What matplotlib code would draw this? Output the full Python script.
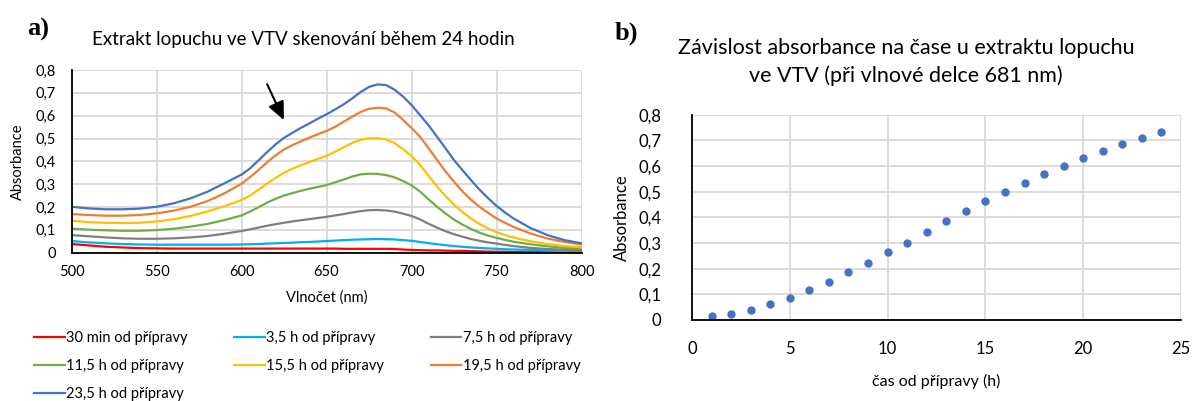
import matplotlib
matplotlib.use("Agg")
import matplotlib.pyplot as plt
from matplotlib.lines import Line2D

plt.rcParams["font.family"] = ["Lato", "DejaVu Sans"]

# ---- panel a): spectra recorded over 24 hours ----
wavelength = [500, 510, 520, 530, 540, 550, 560, 570, 580, 590,
              600, 605, 610, 615, 620, 625, 630, 635, 640, 645, 650, 655, 660, 665, 670,
              675, 680, 685, 690, 695, 700, 705, 710, 715, 720, 725, 730, 735, 740, 745,
              750, 755, 760,
              770, 780, 790, 800]

abs_30min = [0.038, 0.032, 0.026, 0.023, 0.020, 0.019, 0.018, 0.018, 0.018, 0.018,
             0.018, 0.018, 0.018, 0.018, 0.018, 0.018, 0.018, 0.018, 0.018, 0.018, 0.018,
             0.018, 0.017, 0.017, 0.017, 0.017, 0.017, 0.017, 0.016, 0.014, 0.012, 0.011,
             0.010, 0.010, 0.009, 0.008, 0.008, 0.007, 0.006, 0.005, 0.004, 0.004, 0.003,
             0.003, 0.002, 0.001, 0.001]
abs_3_5h = [0.051, 0.045, 0.041, 0.038, 0.036, 0.035, 0.035, 0.035, 0.035, 0.035,
            0.036, 0.037, 0.038, 0.040, 0.041, 0.043, 0.044, 0.046, 0.047, 0.049, 0.051,
            0.053, 0.055, 0.057, 0.058, 0.059, 0.060, 0.059, 0.058, 0.055, 0.052, 0.047,
            0.042, 0.037, 0.033, 0.029, 0.026, 0.023, 0.021, 0.019, 0.017, 0.015, 0.014,
            0.012, 0.010, 0.009, 0.008]
abs_7_5h = [0.077, 0.072, 0.067, 0.063, 0.061, 0.061, 0.063, 0.067, 0.073, 0.083,
            0.095, 0.102, 0.110, 0.118, 0.125, 0.131, 0.137, 0.142, 0.147, 0.152, 0.157,
            0.163, 0.169, 0.176, 0.182, 0.186, 0.187, 0.185, 0.180, 0.171, 0.161, 0.146,
            0.127, 0.110, 0.094, 0.081, 0.070, 0.060, 0.052, 0.045, 0.040, 0.034, 0.029,
            0.021, 0.016, 0.013, 0.011]
abs_11_5h = [0.105, 0.101, 0.098, 0.096, 0.096, 0.099, 0.105, 0.114, 0.126, 0.143,
             0.163, 0.180, 0.199, 0.219, 0.236, 0.250, 0.261, 0.271, 0.280, 0.288, 0.296,
             0.308, 0.320, 0.333, 0.343, 0.346, 0.345, 0.340, 0.330, 0.314, 0.295, 0.268,
             0.234, 0.201, 0.172, 0.145, 0.123, 0.104, 0.088, 0.075, 0.065, 0.056, 0.048,
             0.037, 0.028, 0.021, 0.018]
abs_15_5h = [0.140, 0.134, 0.131, 0.130, 0.131, 0.137, 0.146, 0.161, 0.180, 0.204,
             0.230, 0.250, 0.276, 0.302, 0.327, 0.350, 0.368, 0.383, 0.397, 0.411, 0.424,
             0.442, 0.461, 0.480, 0.494, 0.501, 0.501, 0.496, 0.480, 0.454, 0.423, 0.385,
             0.337, 0.290, 0.248, 0.210, 0.178, 0.149, 0.126, 0.106, 0.090, 0.077, 0.066,
             0.050, 0.038, 0.029, 0.024]
abs_19_5h = [0.169, 0.165, 0.162, 0.162, 0.165, 0.172, 0.184, 0.201, 0.226, 0.260,
             0.302, 0.331, 0.362, 0.396, 0.426, 0.452, 0.471, 0.488, 0.504, 0.519, 0.533,
             0.551, 0.573, 0.595, 0.616, 0.630, 0.635, 0.632, 0.614, 0.582, 0.546, 0.508,
             0.458, 0.406, 0.356, 0.311, 0.268, 0.232, 0.201, 0.175, 0.150, 0.131, 0.113,
             0.084, 0.062, 0.047, 0.036]
abs_23_5h = [0.201, 0.194, 0.190, 0.190, 0.193, 0.201, 0.216, 0.238, 0.267, 0.304,
             0.342, 0.369, 0.404, 0.440, 0.474, 0.503, 0.525, 0.547, 0.566, 0.587, 0.606,
             0.627, 0.649, 0.675, 0.703, 0.726, 0.737, 0.734, 0.714, 0.684, 0.647, 0.603,
             0.558, 0.508, 0.457, 0.406, 0.361, 0.318, 0.276, 0.239, 0.205, 0.176, 0.150,
             0.108, 0.077, 0.055, 0.041]

series_labels = ["30 min od přípravy", "3,5 h od přípravy", "7,5 h od přípravy",
                 "11,5 h od přípravy", "15,5 h od přípravy", "19,5 h od přípravy",
                 "23,5 h od přípravy"]
series_values = [abs_30min, abs_3_5h, abs_7_5h, abs_11_5h, abs_15_5h, abs_19_5h, abs_23_5h]
series_colors = ["#FF0000", "#00B0F0", "#7F7F7F", "#70AD47", "#FFC000", "#ED7D31", "#4472C4"]

wl_ticks = [500, 550, 600, 650, 700, 750, 800]
abs_ticks = [0, 0.1, 0.2, 0.3, 0.4, 0.5, 0.6, 0.7, 0.8]
abs_tick_labels = ["0", "0,1", "0,2", "0,3", "0,4", "0,5", "0,6", "0,7", "0,8"]

# ---- panel b): absorbance at 681 nm versus time ----
time_h = [1, 2, 3, 4, 5, 6, 7, 8, 9, 10, 11, 12, 13, 14, 15, 16, 17, 18, 19, 20, 21, 22, 23, 24]
abs_681 = [0.017, 0.025, 0.038, 0.062, 0.086, 0.117, 0.148, 0.186, 0.223, 0.264, 0.301, 0.343,
           0.384, 0.423, 0.464, 0.497, 0.535, 0.568, 0.601, 0.632, 0.660, 0.684, 0.708, 0.732]
time_ticks = [0, 5, 10, 15, 20, 25]

W, H = 1192, 401
fig = plt.figure(figsize=(W / 100, H / 100), dpi=100)

def px_axes(x0, y0, x1, y1):
    return fig.add_axes([x0 / W, 1 - y1 / H, (x1 - x0) / W, (y1 - y0) / H])

grid_color = "#D9D9D9"

def style(ax):
    for s in ("top", "right"):
        ax.spines[s].set_visible(False)
    for s in ("left", "bottom"):
        ax.spines[s].set_color("black")
        ax.spines[s].set_linewidth(1.3)
    ax.grid(True, color=grid_color, linewidth=1.3)
    ax.set_axisbelow(True)
    ax.tick_params(length=0, colors="black")

# panel a
ax1 = px_axes(71.5, 70, 581.5, 252.7)
style(ax1)
for vals, lab, col in zip(series_values, series_labels, series_colors):
    ax1.plot(wavelength, vals, color=col, linewidth=1.6, label=lab,
             solid_joinstyle="round")
ax1.set_xlim(500, 800)
ax1.set_ylim(0, 0.8)
ax1.set_xticks(wl_ticks)
ax1.set_yticks(abs_ticks)
ax1.set_yticklabels(abs_tick_labels)
ax1.tick_params(axis="y", pad=11, labelsize=10.5)
ax1.tick_params(axis="x", pad=9, labelsize=10.5)
ax1.set_xlabel("Vlnočet (nm)", fontsize=10.5, labelpad=8)
ax1.set_ylabel("Absorbance", fontsize=10.5, labelpad=8)
ax1.annotate("", xy=(625.6, 0.570), xytext=(614.4, 0.749),
             arrowprops=dict(arrowstyle="-|>,head_length=1.1,head_width=0.5",
                             color="black", linewidth=1.5))

fig.text(303 / W, 1 - 40 / H, "Extrakt lopuchu ve VTV skenování během 24 hodin",
         ha="center", va="center", fontsize=13.5)
fig.text(27 / W, 1 - 29 / H, "a)", ha="left", va="center", fontsize=19,
         fontweight="bold", family="Liberation Serif")

# legend below panel a, filled row by row
order = [0, 3, 6, 1, 4, 2, 5]
handles = [Line2D([], [], color=series_colors[i], linewidth=1.6) for i in order]
labels = [series_labels[i] for i in order]
fig.legend(handles, labels, loc="upper left", bbox_to_anchor=(34 / W, 1 - 331 / H),
           ncol=3, frameon=False, fontsize=10.5, handlelength=2.1, handletextpad=0.1,
           columnspacing=3.2, labelspacing=0.95, borderaxespad=0, borderpad=0)

# panel b
ax2 = px_axes(692, 114.7, 1181, 320)
style(ax2)
ax2.plot(time_h, abs_681, linestyle="none", marker="o", markersize=5,
         color="#4472C4")
ax2.set_xlim(0, 25)
ax2.set_ylim(0, 0.8)
ax2.set_xticks(time_ticks)
ax2.set_yticks(abs_ticks)
ax2.set_yticklabels(abs_tick_labels)
ax2.tick_params(axis="y", pad=22, labelsize=12)
ax2.tick_params(axis="x", pad=15, labelsize=12)
ax2.set_xlabel("čas od přípravy (h)", fontsize=11.5, labelpad=12)
ax2.set_ylabel("Absorbance", fontsize=12, labelpad=6)

fig.text(906 / W, 1 - 62 / H,
         "Závislost absorbance na čase u extraktu lopuchu\nve VTV (při vlnové delce 681 nm)",
         ha="center", va="center", fontsize=15.5, linespacing=1.5)
fig.text(615 / W, 1 - 33 / H, "b)", ha="left", va="center", fontsize=19,
         fontweight="bold", family="Liberation Serif")

fig.savefig("out.png", dpi=100, facecolor="white")
